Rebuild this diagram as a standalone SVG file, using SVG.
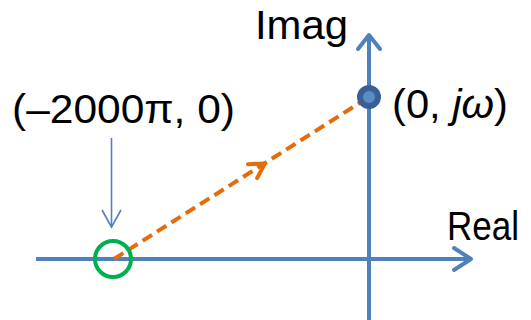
<svg xmlns="http://www.w3.org/2000/svg" width="531" height="320" viewBox="0 0 531 320">
  <style>
    .lbl { font-family: "Liberation Sans", "Open Sans", sans-serif; font-size: 40px; fill: #000; }
    .axis { stroke: #4f81bd; stroke-width: 4; fill: none; }
    .head { stroke: #4f81bd; stroke-width: 4; fill: none; stroke-linecap: round; stroke-linejoin: round; }
  </style>
  <rect width="531" height="320" fill="#fff"/>
  <g id="connectors">
    <line class="axis" x1="36" y1="259" x2="471" y2="259"/>
    <polyline class="head" points="454,248 471,259 454,270"/>
    <line class="axis" x1="369" y1="320" x2="369" y2="36"/>
    <polyline class="head" points="358,49 369,35 380,49"/>
    <line x1="111.5" y1="138" x2="111.5" y2="227" stroke="#4f81bd" stroke-width="1.6"/>
    <polyline points="102,210 111.5,227 121,210" stroke="#4f81bd" stroke-width="1.6" fill="none"/>
    <line x1="114" y1="259" x2="369" y2="97" stroke="#e46c0a" stroke-width="4" stroke-dasharray="11,6"/>
    <polyline points="248,164.2 265,163.4 257.1,178.1" stroke="#e46c0a" stroke-width="4" fill="none" stroke-linecap="round" stroke-linejoin="round"/>
  </g>
  <g id="pole">
    <circle cx="113" cy="259" r="18" fill="none" stroke="#00b050" stroke-width="4"/>
  </g>
  <g id="point">
    <circle cx="369" cy="97" r="9" fill="#5b8cc9" stroke="#3a5f94" stroke-width="6"/>
  </g>
  <g id="labels">
    <text class="lbl" x="12" y="123" textLength="223" lengthAdjust="spacingAndGlyphs">(–2000π, 0)</text>
    <text class="lbl" x="255" y="39" textLength="93" lengthAdjust="spacingAndGlyphs">Imag</text>
    <text class="lbl" x="392" y="118" textLength="116" lengthAdjust="spacingAndGlyphs">(0, <tspan font-style="italic">jω</tspan>)</text>
    <text class="lbl" x="447" y="240" textLength="72" lengthAdjust="spacingAndGlyphs">Real</text>
  </g>
</svg>
